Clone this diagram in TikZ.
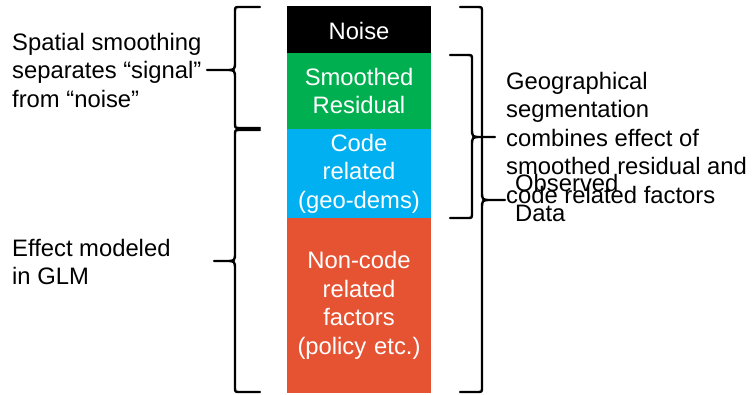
\documentclass[tikz,border=0pt]{standalone}
\usepackage{fontspec}
\setmainfont{Liberation Sans}
\definecolor{noiseblack}{RGB}{0,0,0}
\definecolor{resgreen}{RGB}{0,176,80}
\definecolor{codeblue}{RGB}{0,176,240}
\definecolor{otherred}{RGB}{229,83,51}

% Curly brace drawn as a path: #1 end x, #2 spine x, #3 tip x,
% #4 top y, #5 tip y, #6 bottom y, #7 end corner size, #8 tip corner size
% (both signed: positive when the ends point to the right)
\newcommand{\curlybrace}[8]{%
  \draw[bracepen]
    (#1,#4) -- ({#2+#7},#4) .. controls (#2,#4) .. (#2,{#4+abs(#7)})
    -- (#2,{#5-abs(#8)}) .. controls (#2,#5) .. ({#2-#8},#5) -- (#3,#5)
    -- ({#2-#8},#5) .. controls (#2,#5) .. (#2,{#5+abs(#8)})
    -- (#2,{#6-abs(#7)}) .. controls (#2,#6) .. ({#2+#7},#6) -- (#1,#6);}

\begin{document}
\begin{tikzpicture}[x=1pt,y=-1pt,
  every node/.style={font=\fontsize{23.8}{28.5}\selectfont, inner sep=0pt},
  block/.style={rectangle, minimum width=144pt, text width=140pt,
    align=center, text=white},
  label/.style={align=left, anchor=west},
  bracepen/.style={line width=2.4pt, line join=round, line cap=round}]
  \useasboundingbox (0,0) rectangle (752,394);

  % stacked column
  \node[block, fill=noiseblack, minimum height=47pt] (noise) at (359,29.5) {};
  \node[text=white] (noisetext) at (359,31) {Noise};
  \node[block, fill=resgreen, minimum height=76pt] (resid) at (359,91) {Smoothed\\Residual};
  \node[block, fill=codeblue, minimum height=89pt] (code) at (359,173.5) {Code\\related\\(geo-dems)};
  \node[block, fill=otherred, minimum height=175pt] (other) at (359,305.5) {Non-code\\related\\factors\\(policy etc.)};

  % left braces
  \curlybrace{260}{235}{207}{7}{70}{128}{5}{9}
  \curlybrace{260}{235}{214}{130}{261}{392}{5}{9}
  % right braces
  \curlybrace{450}{472}{495}{55}{137}{218}{-5}{-9}
  \curlybrace{460}{482}{505}{7}{200}{392}{-5}{-9}

  % labels
  \node[label] (smooth) at (12,70) {Spatial smoothing\\separates “signal”\\from “noise”};
  \node[label] (glm) at (12,262) {Effect modeled\\in GLM};
  \node[label] (geo) at (506,137.5) {Geographical\\segmentation\\combines effect of\\smoothed residual and\\code related factors};
  \node[label, font=\fontsize{23.8}{29.5}\selectfont] (obs) at (515,198) {Observed\\Data};
\end{tikzpicture}
\end{document}
